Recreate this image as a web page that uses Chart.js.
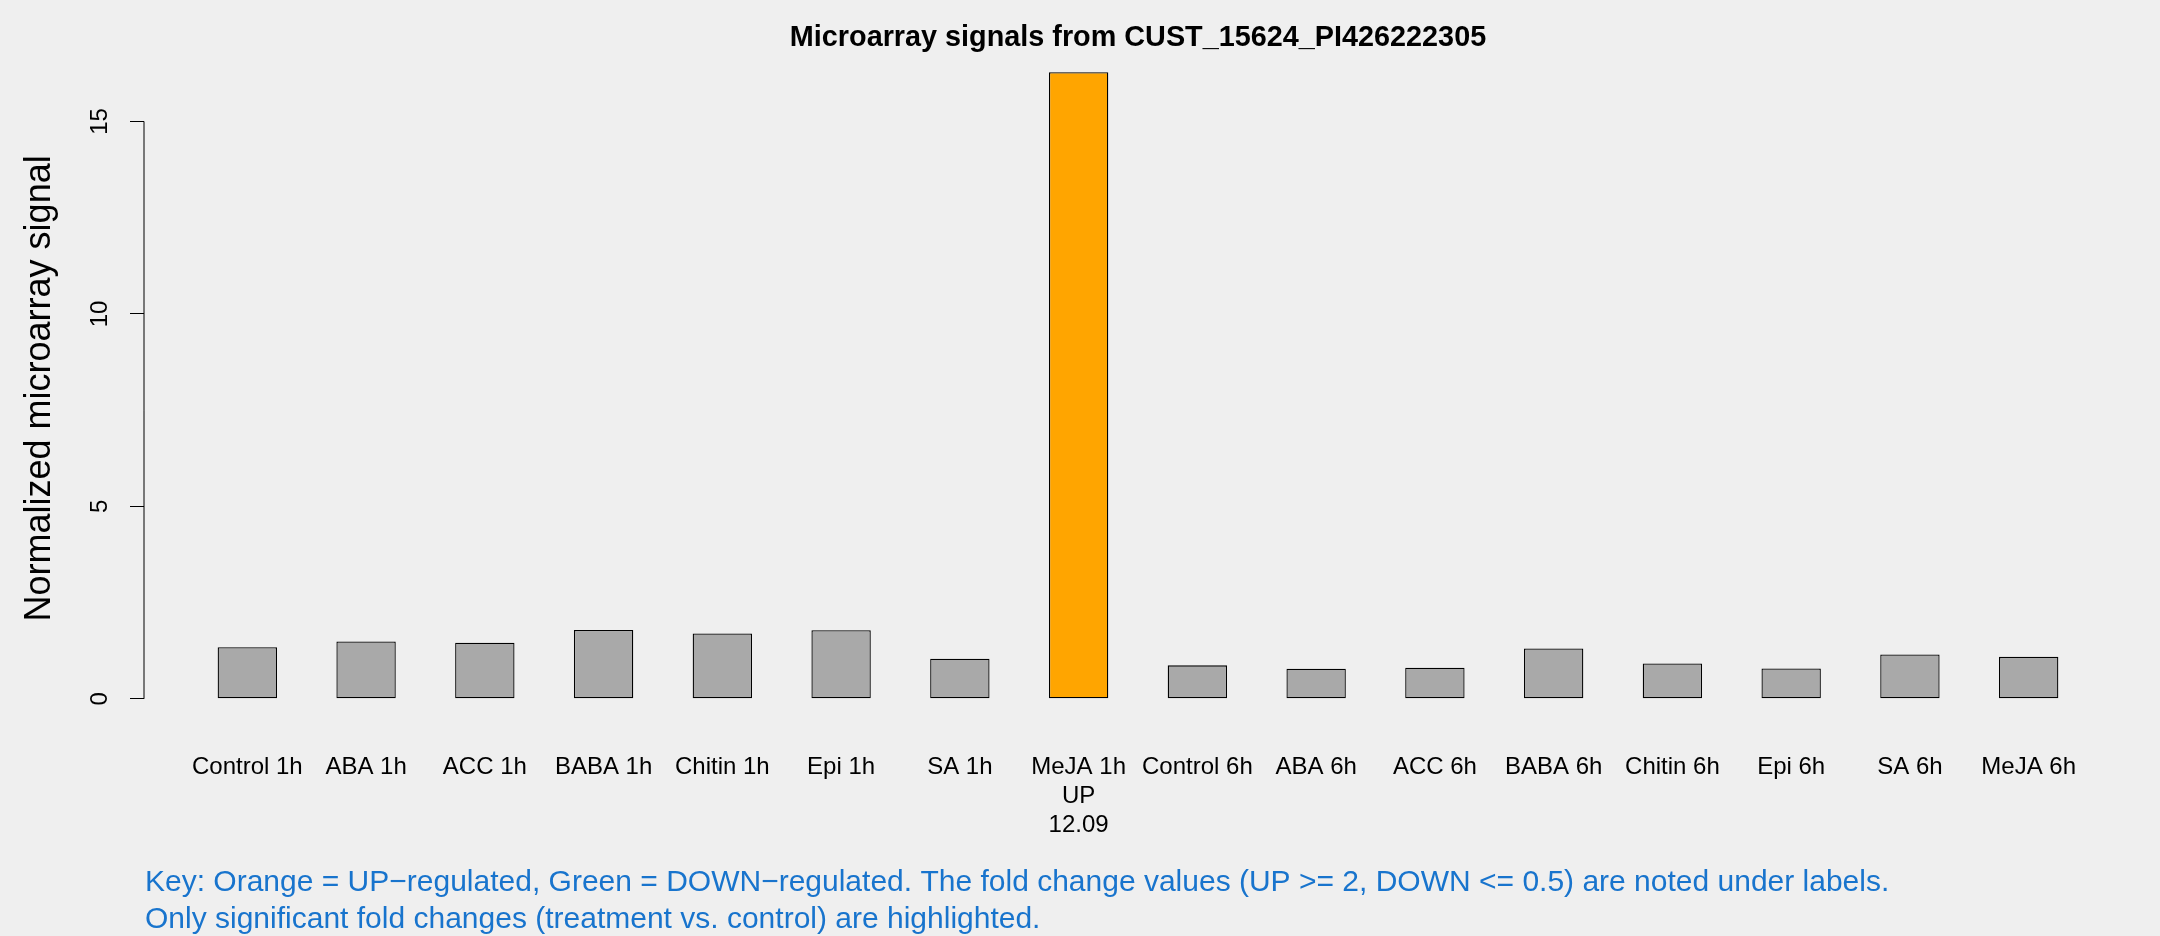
<!DOCTYPE html>
<html>
<head>
<meta charset="utf-8">
<title>Microarray signals</title>
<script src="https://cdn.jsdelivr.net/npm/chart.js@4.4.1/dist/chart.umd.min.js"></script>
<style>
  html, body { margin: 0; padding: 0; background: #efefef; }
  #wrap { width: 2160px; height: 936px; }
</style>
</head>
<body>
<div id="wrap"><canvas id="signalChart"></canvas></div>
<script>
// --- Data ---
const samples = ['Control 1h', 'ABA 1h', 'ACC 1h', 'BABA 1h', 'Chitin 1h', 'Epi 1h', 'SA 1h', 'MeJA 1h',
                 'Control 6h', 'ABA 6h', 'ACC 6h', 'BABA 6h', 'Chitin 6h', 'Epi 6h', 'SA 6h', 'MeJA 6h'];
const signals = [1.34, 1.49, 1.46, 1.79, 1.70, 1.78, 1.04, 16.28,
                 0.87, 0.78, 0.81, 1.31, 0.92, 0.79, 1.15, 1.09];
const regulation = ['', '', '', '', '', '', '', 'UP',
                    '', '', '', '', '', '', '', ''];
const foldChanges = ['', '', '', '', '', '', '', '12.09',
                     '', '', '', '', '', '', '', ''];
const yTicks = [0, 5, 10, 15];

const chartTitle = 'Microarray signals from CUST_15624_PI426222305';
const yTitle = 'Normalized microarray signal';
const keyLines = [
    'Key: Orange = UP\u2212regulated, Green = DOWN\u2212regulated. The fold change values (UP >= 2, DOWN <= 0.5) are noted under labels.',
    'Only significant fold changes (treatment vs. control) are highlighted.'
];

// barplot layout: width 1, space 1 -> centres at 1.5, 3.5, ...
const barCenters = samples.map((_, i) => 1.5 + 2 * i);
const FONT = '"Liberation Sans", Arial, sans-serif';

function barColor(r) {
    if (r === 'UP') return '#FFA500';
    if (r === 'DOWN') return '#32CD32';
    return '#A9A9A9';
}

// Label under each bar (+ status and fold change when significant)
function tickLabel(i) {
    if (!regulation[i]) return samples[i];
    return [samples[i], regulation[i], foldChanges[i]];
}

// --- Plugins ---
const background = {
    id: 'background',
    beforeDraw(chart) {
        const ctx = chart.ctx;
        ctx.save();
        ctx.fillStyle = '#efefef';
        ctx.fillRect(0, 0, chart.width, chart.height);
        ctx.restore();
    }
};

// y axis line only runs from the first to the last tick, like R
const axisLine = {
    id: 'axisLine',
    afterDraw(chart) {
        const y = chart.scales.y;
        const ctx = chart.ctx;
        ctx.save();
        ctx.strokeStyle = '#000';
        ctx.lineWidth = 1;
        ctx.beginPath();
        ctx.moveTo(chart.chartArea.left, y.getPixelForValue(yTicks[0]));
        ctx.lineTo(chart.chartArea.left, y.getPixelForValue(yTicks[yTicks.length - 1]));
        ctx.stroke();
        ctx.restore();
    }
};

const keyText = {
    id: 'keyText',
    afterDraw(chart) {
        const ctx = chart.ctx;
        ctx.save();
        ctx.font = '30px ' + FONT;
        ctx.fillStyle = '#1874CD';
        ctx.textAlign = 'left';
        ctx.textBaseline = 'middle';
        keyLines.forEach((line, i) => {
            ctx.fillText(line, 145, 883 + i * 37);
        });
        ctx.restore();
    }
};

new Chart(document.getElementById('signalChart'), {
    type: 'bar',
    data: {
        datasets: [{
            data: signals.map((v, i) => ({ x: barCenters[i], y: v })),
            backgroundColor: regulation.map(barColor),
            borderColor: '#000',
            borderWidth: 1.3,
            borderSkipped: false,
            categoryPercentage: 1,
            barPercentage: 0.5
        }]
    },
    options: {
        responsive: true,
        maintainAspectRatio: false,
        animation: false,
        layout: { padding: { top: 0, left: 0, right: 28, bottom: 0 } },
        plugins: {
            legend: { display: false },
            tooltip: { enabled: false },
            title: {
                display: true,
                text: chartTitle,
                fullSize: false,
                color: '#000',
                font: { family: FONT, size: 28.8, weight: 'bold', lineHeight: 1.0 },
                padding: { top: 24, bottom: 0 }
            }
        },
        scales: {
            x: {
                type: 'linear',
                offset: false,
                min: -0.24,
                max: 33.24,
                bounds: 'data',
                grid: { display: false },
                border: { display: false },
                afterBuildTicks: (scale) => {
                    scale.ticks = barCenters.map(v => ({ value: v }));
                },
                afterFit: (scale) => { scale.height = 212; },
                ticks: {
                    autoSkip: false,
                    maxRotation: 0,
                    padding: 21,
                    color: '#000',
                    font: { family: FONT, size: 24 },
                    callback: (value, index) => tickLabel(index)
                }
            },
            y: {
                min: -0.654,
                max: 16.783,
                bounds: 'data',
                afterBuildTicks: (scale) => {
                    scale.ticks = yTicks.map(v => ({ value: v }));
                },
                afterFit: (scale) => { scale.width = 144; },
                grid: {
                    drawOnChartArea: false,
                    drawTicks: true,
                    tickLength: 14,
                    color: '#000',
                    lineWidth: 1
                },
                border: { display: false },
                ticks: {
                    minRotation: 90,
                    maxRotation: 90,
                    crossAlign: 'center',
                    padding: 16,
                    color: '#000',
                    font: { family: FONT, size: 24 }
                },
                title: {
                    display: true,
                    text: yTitle,
                    color: '#000',
                    font: { family: FONT, size: 36 },
                    padding: { top: 18.4, bottom: 0 }
                }
            }
        }
    },
    plugins: [background, axisLine, keyText]
});
</script>
</body>
</html>
